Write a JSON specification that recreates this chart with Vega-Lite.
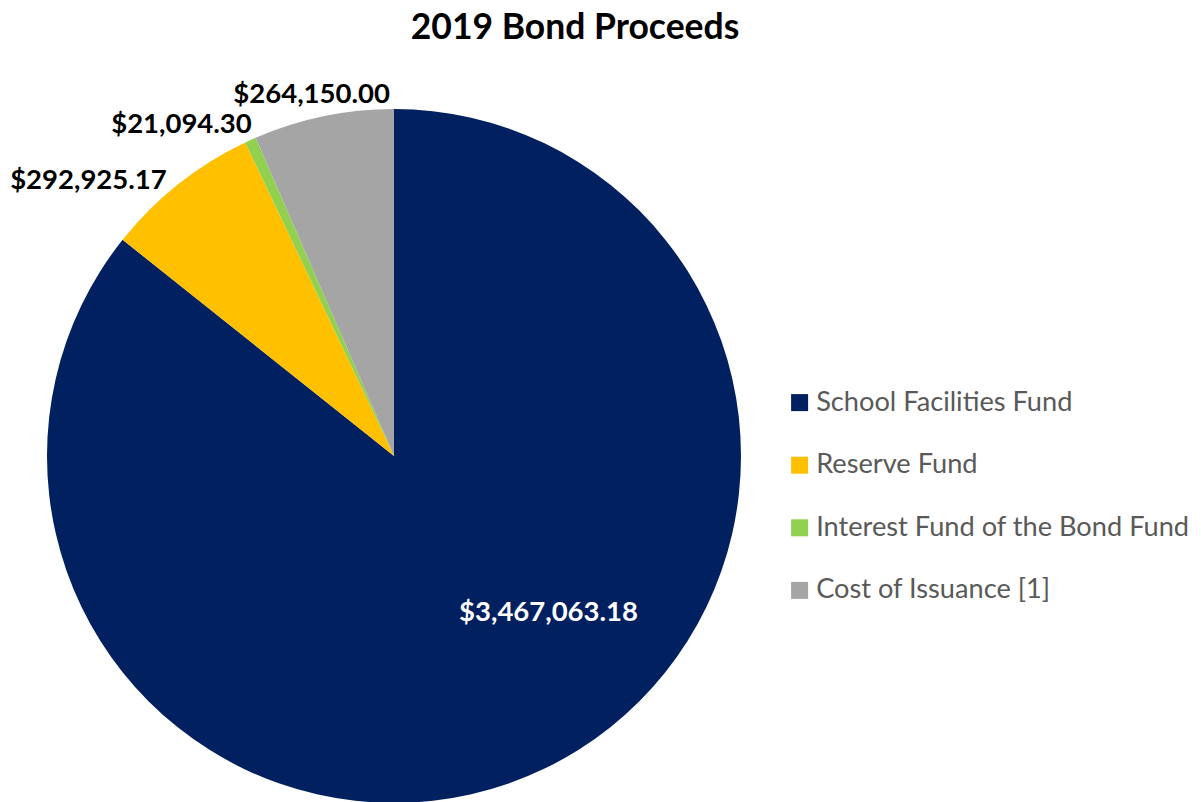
{
  "$schema": "https://vega.github.io/schema/vega-lite/v6.json",
  "autosize": {"type": "none"},
  "width": 694,
  "height": 694,
  "padding": {"left": 47, "top": 109, "right": 460, "bottom": 0},
  "background": "white",
  "title": {
    "text": "2019 Bond Proceeds",
    "font": "Lato",
    "fontSize": 35.5,
    "fontWeight": "bold",
    "color": "#000000",
    "anchor": "middle",
    "frame": "group",
    "dx": 181,
    "offset": 34
  },
  "data": {
    "values": [
      {"idx": 1, "category": "School Facilities Fund", "amount": 3467063.18, "label": "$3,467,063.18"},
      {"idx": 2, "category": "Reserve Fund", "amount": 292925.17, "label": "$292,925.17"},
      {"idx": 3, "category": "Interest Fund of the Bond Fund", "amount": 21094.30, "label": "$21,094.30"},
      {"idx": 4, "category": "Cost of Issuance [1]", "amount": 264150.00, "label": "$264,150.00"}
    ]
  },
  "encoding": {
    "theta": {"field": "amount", "type": "quantitative", "stack": true},
    "order": {"field": "idx", "type": "quantitative"}
  },
  "layer": [
    {
      "mark": {"type": "arc", "outerRadius": 347},
      "encoding": {
        "color": {
          "field": "category",
          "type": "nominal",
          "scale": {
            "domain": ["School Facilities Fund", "Reserve Fund", "Interest Fund of the Bond Fund", "Cost of Issuance [1]"],
            "range": ["#002060", "#FFC000", "#92D050", "#A5A5A5"]
          },
          "legend": {
            "title": null,
            "orient": "none",
            "legendX": 739,
            "legendY": 280,
            "symbolType": "square",
            "symbolSize": 289,
            "symbolStrokeWidth": 0,
            "labelFont": "Lato",
            "labelFontSize": 27.2,
            "labelColor": "#595959",
            "labelLimit": 600,
            "labelOffset": 3,
            "rowPadding": 34.6
          }
        }
      }
    },
    {
      "mark": {"type": "text", "radius": 220, "dx": 59, "dy": -41, "font": "Lato", "fontSize": 27.5, "fontWeight": "bold", "color": "white", "baseline": "middle", "align": "center"},
      "encoding": {
        "text": {"condition": {"test": "datum.idx === 1", "field": "label"}, "value": ""}
      }
    },
    {
      "mark": {"type": "text", "radius": 400, "dx": -57, "dy": 38, "font": "Lato", "fontSize": 27.5, "fontWeight": "bold", "color": "black", "baseline": "middle", "align": "center"},
      "encoding": {
        "text": {"condition": {"test": "datum.idx === 2", "field": "label"}, "value": ""}
      }
    },
    {
      "mark": {"type": "text", "radius": 400, "dx": -47, "dy": 33, "font": "Lato", "fontSize": 27.5, "fontWeight": "bold", "color": "black", "baseline": "middle", "align": "center"},
      "encoding": {
        "text": {"condition": {"test": "datum.idx === 3", "field": "label"}, "value": ""}
      }
    },
    {
      "mark": {"type": "text", "radius": 380, "dx": -5, "dy": 11, "font": "Lato", "fontSize": 27.5, "fontWeight": "bold", "color": "black", "baseline": "middle", "align": "center"},
      "encoding": {
        "text": {"condition": {"test": "datum.idx === 4", "field": "label"}, "value": ""}
      }
    }
  ],
  "config": {"view": {"stroke": null}}
}
